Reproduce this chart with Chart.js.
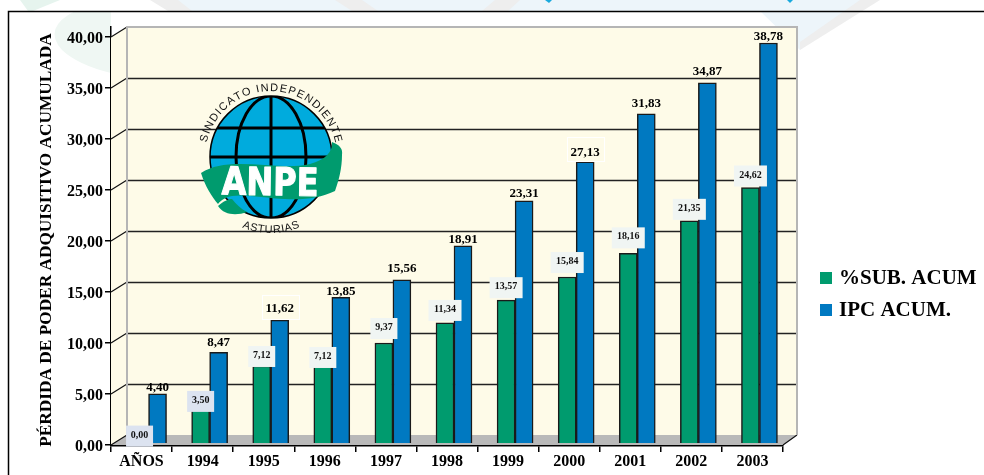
<!DOCTYPE html>
<html lang="es">
<head>
<meta charset="utf-8">
<title>Pérdida de poder adquisitivo acumulada</title>
<script src="https://cdn.jsdelivr.net/npm/chart.js@4/dist/chart.umd.min.js"></script>
<style>
  html, body { margin: 0; padding: 0; background: #fff; overflow: hidden; }
  canvas { display: block; }
</style>
</head>
<body>
<canvas id="chart" width="984" height="475"></canvas>
<script>
// datos
const years = ["AÑOS", "1994", "1995", "1996", "1997", "1998", "1999", "2000", "2001", "2002", "2003"];
const subAcum = [0.00, 3.50, 7.12, 7.12, 9.37, 11.34, 13.57, 15.84, 18.16, 21.35, 24.62];
const ipcAcum = [4.40, 8.47, 11.62, 13.85, 15.56, 18.91, 23.31, 27.13, 31.83, 34.87, 38.78];
const yTicks = [0, 5, 10, 15, 20, 25, 30, 35, 40];
const yTitle = "PÉRDIDA DE PODER ADQUISITIVO ACUMULADA";

const SERIF = '"Liberation Serif", serif';
const GREEN = "#009B6E";
const BLUE = "#0079C1";

// profundidad del falso 3D
const DEPTH_X = 16, DEPTH_Y = 10;
// las barras van algo desplazadas respecto al eje frontal
const BAR_SHIFT_X = 7, BAR_SHIFT_Y = -6.4;

// ajustes de las etiquetas, una por anyo
const ipcLift = [6, 10, 11, 6, 11, 6, 7, 9, 10, 11, 6];
const subBoxDrop = [8, 9, 1, 2, -4, -2, -2, -4, -5, -1, -1];

const fmt = v => v.toFixed(2).replace(".", ",");

function poly(ctx, pts, fill) {
    ctx.beginPath();
    pts.forEach((p, i) => i ? ctx.lineTo(p[0], p[1]) : ctx.moveTo(p[0], p[1]));
    ctx.closePath();
    ctx.fillStyle = fill;
    ctx.fill();
}

// texto sobre un arco; inward = true deja la cabeza de las letras hacia el centro
function arcText(ctx, text, cx, cy, r, midAngle, inward, gap) {
    const widths = [...text].map(c => ctx.measureText(c).width + gap);
    const total = widths.reduce((a, b) => a + b, 0) / r;
    let a = midAngle - (inward ? -1 : 1) * total / 2;
    ctx.textAlign = "center";
    ctx.textBaseline = "alphabetic";
    [...text].forEach((c, i) => {
        const step = widths[i] / r / 2 * (inward ? -1 : 1);
        a += step;
        ctx.save();
        ctx.translate(cx + r * Math.cos(a), cy + r * Math.sin(a));
        ctx.rotate(a + (inward ? -Math.PI / 2 : Math.PI / 2));
        ctx.fillText(c, 0, 0);
        ctx.restore();
        a += step;
    });
}

function drawLogo(ctx) {
    const cx = 271, cy = 157, r = 61;
    ctx.save();

    // globo
    ctx.beginPath();
    ctx.arc(cx, cy, r, 0, Math.PI * 2);
    ctx.fillStyle = "#00ABDD";
    ctx.fill();
    ctx.save();
    ctx.clip();
    ctx.strokeStyle = "#000";
    ctx.lineWidth = 3;
    ctx.beginPath();
    ctx.moveTo(cx, cy - r); ctx.lineTo(cx, cy + r);
    ctx.moveTo(cx - r, cy); ctx.lineTo(cx + r, cy);
    ctx.moveTo(cx - r, cy - 29); ctx.lineTo(cx + r, cy - 29);
    ctx.stroke();
    ctx.beginPath();
    ctx.ellipse(cx, cy, 35, r, 0, 0, Math.PI * 2);
    ctx.stroke();
    ctx.restore();
    ctx.beginPath();
    ctx.arc(cx, cy, r, 0, Math.PI * 2);
    ctx.strokeStyle = "#000";
    ctx.lineWidth = 1.5;
    ctx.stroke();

    // cinta verde
    ctx.beginPath();
    ctx.moveTo(201, 173);
    ctx.bezierCurveTo(212, 166, 224, 164, 240, 164);
    ctx.bezierCurveTo(265, 164, 290, 169, 310, 164);
    ctx.bezierCurveTo(325, 160, 333, 152, 332, 142);
    ctx.bezierCurveTo(340, 145, 343, 149, 342, 155);
    ctx.bezierCurveTo(342, 168, 339, 180, 335, 191);
    ctx.bezierCurveTo(320, 198, 305, 200, 285, 199);
    ctx.bezierCurveTo(265, 198, 245, 194, 232, 196);
    ctx.bezierCurveTo(226, 197, 221, 200, 218, 204);
    ctx.bezierCurveTo(212, 197, 205, 186, 201, 173);
    ctx.closePath();
    ctx.fillStyle = GREEN;
    ctx.fill();
    // punta de la cinta, bajo el globo
    ctx.beginPath();
    ctx.moveTo(218, 206);
    ctx.bezierCurveTo(224, 201, 228, 199, 232, 199);
    ctx.bezierCurveTo(236, 204, 241, 209, 247, 212);
    ctx.bezierCurveTo(236, 216, 224, 215, 218, 206);
    ctx.closePath();
    ctx.fill();

    ctx.save();
    ctx.translate(270, 195);
    ctx.rotate(0.015);
    ctx.scale(1, 1.2);
    ctx.fillStyle = "#fff";
    ctx.strokeStyle = "#fff";
    ctx.lineWidth = 1;
    ctx.lineJoin = "round";
    ctx.font = 'bold 32px "DejaVu Sans", sans-serif';
    ctx.textAlign = "center";
    ctx.textBaseline = "alphabetic";
    ctx.fillText("ANPE", 0, 0);
    ctx.strokeText("ANPE", 0, 0);
    ctx.restore();

    // rotulos
    ctx.fillStyle = "#111";
    ctx.font = '11px "Liberation Sans", sans-serif';
    arcText(ctx, "SINDICATO INDEPENDIENTE", cx, cy, 66, -Math.PI / 2, false, 1.2);
    arcText(ctx, "ASTURIAS", cx, cy, 76, Math.PI / 2, true, 0.6);
    ctx.restore();
}

const scene3d = {
    id: "scene3d",
    beforeDraw(chart) {
        const ctx = chart.ctx;
        // marca de agua de fondo
        ctx.save();
        poly(ctx, [[170, 0], [800, 0], [800, 50], [760, 11], [170, 11]], "#EDF5FA");
        poly(ctx, [[800, 0], [862, 0], [800, 50]], "#EDF5FA");
        poly(ctx, [[20, 0], [60, 0], [33, 11], [28, 11]], "#E6F4EE");
        poly(ctx, [[150, 0], [178, 0], [192, 11], [168, 11]], "#EEEEEE");
        poly(ctx, [[335, 0], [362, 0], [378, 11], [352, 11]], "#EEEEEE");
        poly(ctx, [[495, 0], [520, 0], [508, 11], [482, 11]], "#EEEEEE");
        poly(ctx, [[860, 0], [880, 0], [800, 50], [800, 42]], "#EEEEEE");
        ctx.beginPath();
        ctx.moveTo(75, 11);
        ctx.quadraticCurveTo(42, 28, 62, 50);
        ctx.quadraticCurveTo(78, 65, 111, 73);
        ctx.lineTo(111, 11);
        ctx.closePath();
        ctx.fillStyle = "#EFF7F3";
        ctx.fill();
        poly(ctx, [[545, 0], [552, 0], [549, 3]], "#19A9DD");
        poly(ctx, [[787, 0], [793, 0], [790, 3]], "#19A9DD");

        // marco exterior
        ctx.strokeStyle = "#000";
        ctx.lineWidth = 1.5;
        ctx.beginPath();
        ctx.moveTo(8.5, 475);
        ctx.lineTo(8.5, 11.5);
        ctx.lineTo(984, 11.5);
        ctx.stroke();
        ctx.restore();
    },
    beforeDatasetsDraw(chart) {
        const ctx = chart.ctx;
        const area = chart.chartArea;
        const y = chart.scales.y;
        const top = y.getPixelForValue(40), base = y.getPixelForValue(0);
        const x0 = area.left, x1 = area.right;

        ctx.save();
        // pared del fondo, pared izquierda y suelo
        poly(ctx, [[x0 + DEPTH_X, top - DEPTH_Y], [x1 + DEPTH_X - 2, top - DEPTH_Y], [x1 + DEPTH_X - 2, base - DEPTH_Y], [x0 + DEPTH_X, base - DEPTH_Y]], "#FEFBE8");
        poly(ctx, [[x0, top], [x0 + DEPTH_X, top - DEPTH_Y], [x0 + DEPTH_X, base - DEPTH_Y], [x0, base]], "#FEFBE8");
        poly(ctx, [[x0 + DEPTH_X, base - DEPTH_Y], [x1 + DEPTH_X - 2, base - DEPTH_Y], [x1, base], [x0, base]], "#B9B9B9");

        // lineas de la reticula
        ctx.strokeStyle = "#222";
        ctx.lineWidth = 1.4;
        ctx.beginPath();
        yTicks.forEach(v => {
            const py = Math.round(y.getPixelForValue(v) - DEPTH_Y) + 0.5;
            if (v > 0 && v < 40) {
                ctx.moveTo(x0 + DEPTH_X, py);
                ctx.lineTo(x1 + DEPTH_X - 2, py);
            }
        });
        ctx.stroke();

        // ticks inclinados en la pared izquierda
        ctx.lineWidth = 1.2;
        ctx.strokeStyle = "#111";
        ctx.beginPath();
        yTicks.forEach(v => {
            const py = y.getPixelForValue(v);
            ctx.moveTo(x0, py);
            ctx.lineTo(x0 + DEPTH_X, py - DEPTH_Y);
        });
        ctx.moveTo(x1, base);
        ctx.lineTo(x1 + DEPTH_X - 2, base - DEPTH_Y);
        ctx.stroke();

        // borde gris de la pared
        ctx.strokeStyle = "#B5B5B5";
        ctx.lineWidth = 2;
        ctx.beginPath();
        ctx.moveTo(x0 + DEPTH_X, base - DEPTH_Y);
        ctx.lineTo(x0 + DEPTH_X, top - DEPTH_Y);
        ctx.lineTo(x1 + DEPTH_X - 2, top - DEPTH_Y);
        ctx.lineTo(x1 + DEPTH_X - 2, base - DEPTH_Y);
        ctx.stroke();

        drawLogo(ctx);
        ctx.restore();

        // las barras se pintan sobre el suelo, no sobre el eje frontal
        ctx.save();
        ctx.translate(BAR_SHIFT_X, BAR_SHIFT_Y);
    },
    afterDatasetsDraw(chart) {
        const ctx = chart.ctx;
        ctx.restore();

        const subBars = chart.getDatasetMeta(0).data;
        const ipcBars = chart.getDatasetMeta(1).data;

        ctx.save();
        ctx.textAlign = "center";
        ctx.textBaseline = "middle";

        // titulo del eje, centrado en el eje frontal mas la base
        ctx.save();
        ctx.translate(47, 240);
        ctx.rotate(-Math.PI / 2);
        ctx.fillStyle = "#000";
        ctx.font = "bold 17.3px " + SERIF;
        ctx.fillText(yTitle, 0, 0);
        ctx.restore();

        // valores de IPC sobre cada barra
        ipcBars.forEach((bar, i) => {
            const cx = bar.x + BAR_SHIFT_X, ty = bar.y + BAR_SHIFT_Y;
            if (i === 2 || i === 7) {
                ctx.strokeStyle = "#fff";
                ctx.lineWidth = 1;
                ctx.strokeRect(Math.round(cx - 18) + 0.5, Math.round(ty - 25) + 0.5, 37, 24);
            }
            ctx.fillStyle = "#000";
            ctx.font = "bold 13px " + SERIF;
            ctx.fillText(fmt(ipcAcum[i]), cx, ty - ipcLift[i]);
        });

        // cajas con los valores de %SUB
        subBars.forEach((bar, i) => {
            const cx = bar.x + BAR_SHIFT_X;
            const bottom = bar.y + BAR_SHIFT_Y + subBoxDrop[i];
            const w = subAcum[i] < 10 ? 27 : 33, h = 21;
            ctx.fillStyle = i < 2 ? "#DCE3F0" : "#F0F5F3";
            ctx.fillRect(cx - w / 2, bottom - h, w, h);
            ctx.fillStyle = "#111";
            ctx.font = "bold 10px " + SERIF;
            ctx.fillText(fmt(subAcum[i]), cx, bottom - h / 2 - 1);
        });

        // leyenda a la derecha
        ctx.textAlign = "left";
        chart.data.datasets.forEach((ds, i) => {
            const ly = 278 + i * 32;
            ctx.fillStyle = ds.backgroundColor;
            ctx.fillRect(820, ly - 6, 12, 12);
            ctx.fillStyle = "#000";
            ctx.font = "bold 21px " + SERIF;
            ctx.fillText(ds.label, 839, ly + 1);
        });
        ctx.restore();
    }
};

new Chart(document.getElementById("chart"), {
    type: "bar",
    data: {
        labels: years,
        datasets: [
            { label: "%SUB. ACUM", data: subAcum, backgroundColor: GREEN },
            { label: "IPC ACUM.", data: ipcAcum, backgroundColor: BLUE }
        ]
    },
    options: {
        responsive: false,
        animation: false,
        layout: { padding: { top: 27, right: 201, left: 0, bottom: 0 } },
        datasets: {
            bar: {
                barThickness: 18,
                borderColor: "#1A1A1A",
                borderWidth: 1.5,
                base: -0.43,
                clip: false
            }
        },
        plugins: {
            legend: { display: false },
            tooltip: { enabled: false }
        },
        scales: {
            x: {
                afterFit: ax => { ax.height = 30; },
                border: { color: "#000", width: 2.5 },
                grid: { drawOnChartArea: false, color: "#000", lineWidth: 1.5, tickLength: 7 },
                ticks: { color: "#000", font: { family: SERIF, size: 16, weight: "bold" }, padding: 0, maxRotation: 0, autoSkip: false }
            },
            y: {
                min: 0,
                max: 40.98,
                afterFit: ax => { ax.width = 111; },
                afterBuildTicks: ax => { ax.ticks = yTicks.map(v => ({ value: v })); },
                border: { color: "#000", width: 1.5 },
                grid: { drawOnChartArea: false, color: "#000", lineWidth: 1.5, tickLength: 6 },
                ticks: { color: "#000", font: { family: SERIF, size: 16, weight: "bold" }, padding: 2, labelOffset: 2, callback: v => fmt(v) }
            }
        }
    },
    plugins: [scene3d]
});
</script>
</body>
</html>
